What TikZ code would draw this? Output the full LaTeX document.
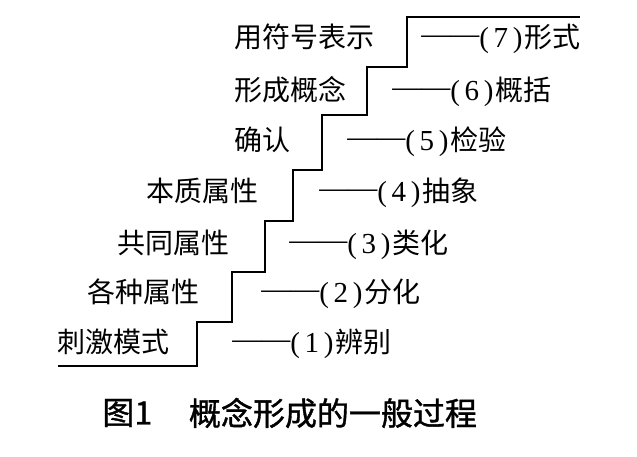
\documentclass[tikz,border=0pt]{standalone}
\usepackage{fontspec}
\setmainfont{Liberation Serif}
\newfontfamily\cjk{Noto Sans CJK SC}
\newfontfamily\cjkcap[FakeBold=1.2]{Noto Sans CJK SC}
\usetikzlibrary{positioning}
\tikzset{  stair/.style={line width=0.8pt},
  lab/.style={inner sep=0pt,anchor=west,text height=12.3pt,text depth=1.7pt,font=\cjk\fontsize{14}{16}\selectfont},
  capt/.style={inner sep=0pt,anchor=west,font=\cjkcap\fontsize{16}{18}\selectfont} }
\newcommand{\stageno}[1]{{\rmfamily\fontsize{14.5}{16}\selectfont
   \raisebox{2pt}{——}(\kern2.3pt#1\kern2.3pt)\kern1pt}}

\begin{document}
\begin{tikzpicture}[x=0.5pt,y=-0.5pt]
   \useasboundingbox (0,0) rectangle (637,456);
   \draw[stair] (58,366) -| (197,322) -| (232,272) -| (265,221) -| (293,170)
      -| (322,115) -| (367,67) -| (407,17) -- (580,17);
   \node[lab] (l7) at (234,37)  {用符号表示};
   \node[lab] (l6) at (234,90)  {形成概念};
   \node[lab] (l5) at (234,140) {确认};
   \node[lab] (l4) at (146,191) {本质属性};
   \node[lab] (l3) at (117,243) {共同属性};
   \node[lab] (l2) at (87,292)  {各种属性};
   \node[lab] (l1) at (57,342)  {刺激模式};
   \node[lab] (s7) at (421,37)  {\stageno{7}形式};
   \node[lab] (s6) at (392,90)  {\stageno{6}概括};
   \node[lab] (s5) at (347,140) {\stageno{5}检验};
   \node[lab] (s4) at (319,191) {\stageno{4}抽象};
   \node[lab] (s3) at (289,243) {\stageno{3}类化};
   \node[lab] (s2) at (261,292) {\stageno{2}分化};
   \node[lab] (s1) at (232,342) {\stageno{1}辨别};
   \node[capt] (fig) at (102,413) {图1};
   \node[capt,right=18pt of fig] (title) {概念形成的一般过程};
  \end{tikzpicture}
\end{document}
